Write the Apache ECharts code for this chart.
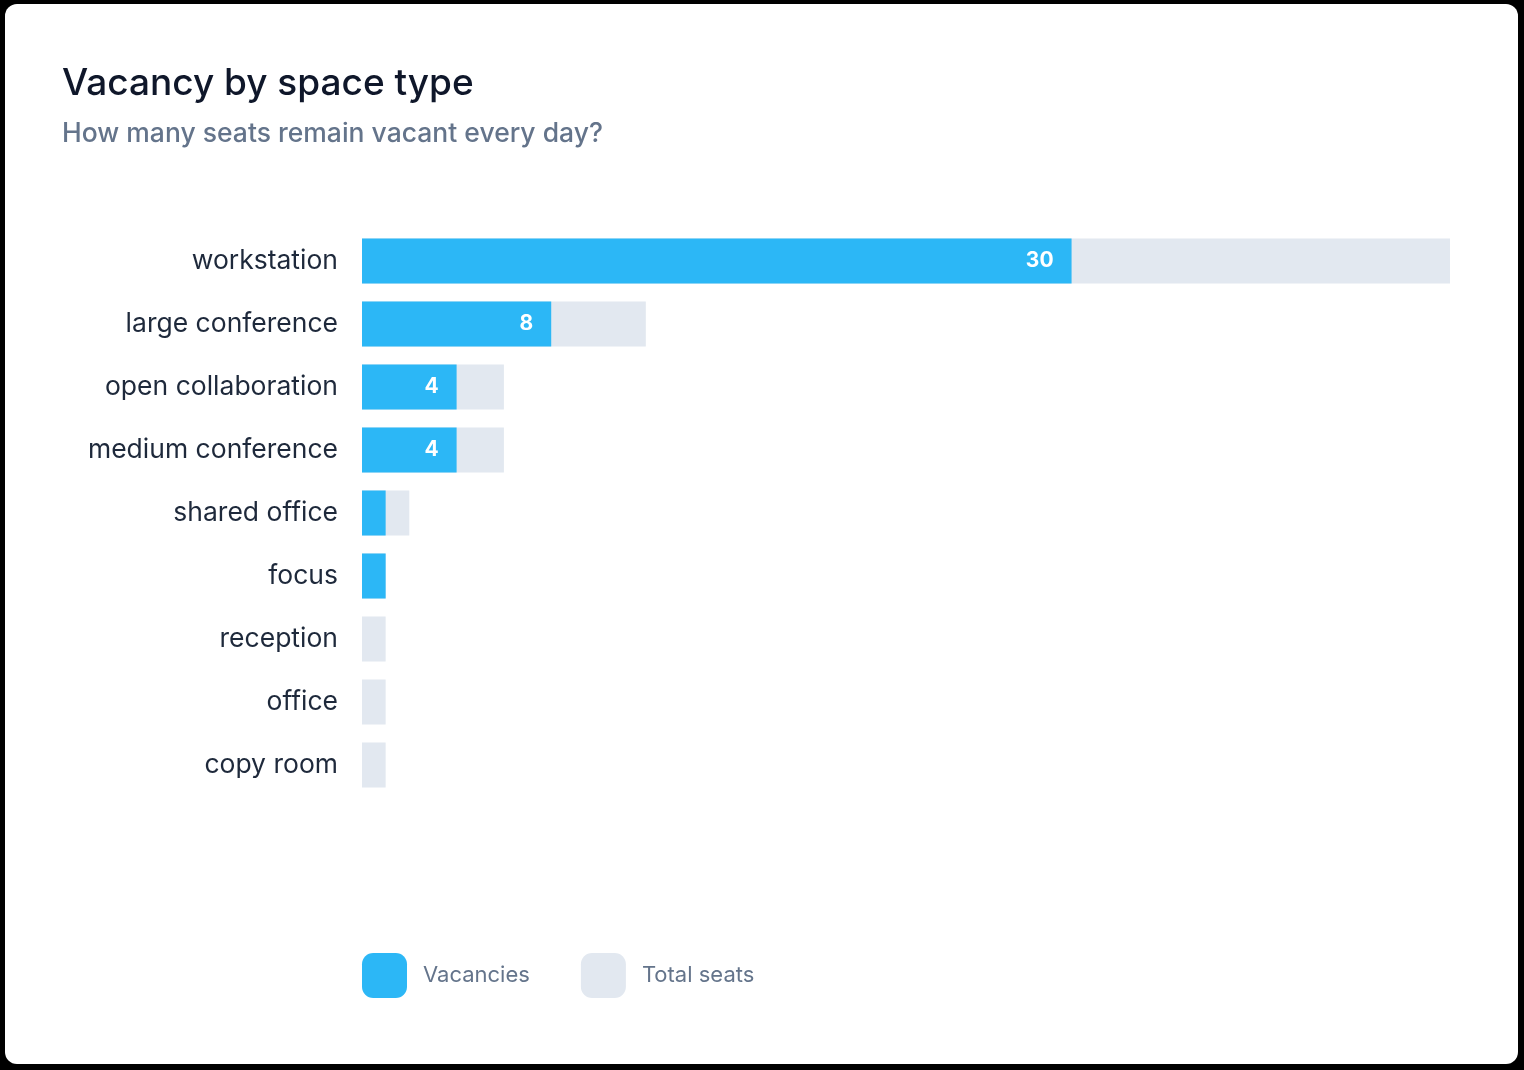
<!DOCTYPE html>
<html>
<head>
<meta charset="utf-8">
<script src="https://cdn.jsdelivr.net/npm/echarts@6/dist/echarts.min.js"></script>
<style>
  html, body { margin: 0; padding: 0; background: #000; }
  #card { position: absolute; left: 5px; top: 4px; width: 1513px; height: 1060px; background: #fff; border-radius: 12px; }
  #chart { position: absolute; left: 0; top: 0; width: 1524px; height: 1070px; }
</style>
</head>
<body>
<div id="card"></div>
<div id="chart"></div>
<script>
// vacancy per space type
const chart = echarts.init(document.getElementById('chart'), null, { renderer: 'canvas' });

const spaceTypes = [
  'workstation', 'large conference', 'open collaboration', 'medium conference',
  'shared office', 'focus', 'reception', 'office', 'copy room'
];
const vacancies = [30, 8, 4, 4, 1, 1, 0, 0, 0];
const totalSeats = [46, 12, 6, 6, 2, 1, 1, 1, 1];

const font = 'Inter, "Noto Sans", sans-serif';

const option = {
  backgroundColor: 'transparent',
  title: {
    text: 'Vacancy by space type',
    subtext: 'How many seats remain vacant every day?',
    left: 57,
    top: 60,
    itemGap: 19,
    textStyle: {
      fontFamily: font,
      fontSize: 37,
      fontWeight: 500,
      color: '#0f172a'
    },
    subtextStyle: {
      fontFamily: font,
      fontSize: 26.5,
      fontWeight: 500,
      color: '#64748b'
    }
  },
  legend: {
    data: ['Vacancies', 'Total seats'],
    left: 357,
    top: 948,
    itemWidth: 45,
    itemHeight: 45,
    itemGap: 51,
    icon: 'roundRect',
    textStyle: {
      fontFamily: font,
      fontSize: 22,
      color: '#64748b',
      padding: [0, 0, 0, 11]
    }
  },
  grid: {
    left: 362,
    right: 74,
    top: 229.5,
    height: 567,
    containLabel: false
  },
  xAxis: {
    type: 'value',
    min: 0,
    max: 46,
    show: false
  },
  yAxis: {
    type: 'category',
    data: spaceTypes,
    inverse: true,
    axisLine: { show: false },
    axisTick: { show: false },
    axisLabel: {
      margin: 24,
      fontFamily: font,
      fontSize: 26.5,
      color: '#1e293b'
    }
  },
  series: [
    {
      type: 'bar',
      name: 'Vacancies',
      data: vacancies,
      z: 3,
      barWidth: 45,
      barGap: '-100%',
      itemStyle: { color: '#2cb7f6' },
      label: {
        show: true,
        position: 'insideRight',
        distance: 18,
        fontFamily: font,
        fontSize: 21,
        fontWeight: 'bold',
        color: '#fff',
        formatter: p => (p.value >= 4 ? p.value : '')
      }
    },
    {
      type: 'bar',
      name: 'Total seats',
      data: totalSeats,
      z: 2,
      barWidth: 45,
      barGap: '-100%',
      itemStyle: { color: '#e2e8f0' }
    }
  ]
};
chart.setOption(option);
</script>
</body>
</html>
